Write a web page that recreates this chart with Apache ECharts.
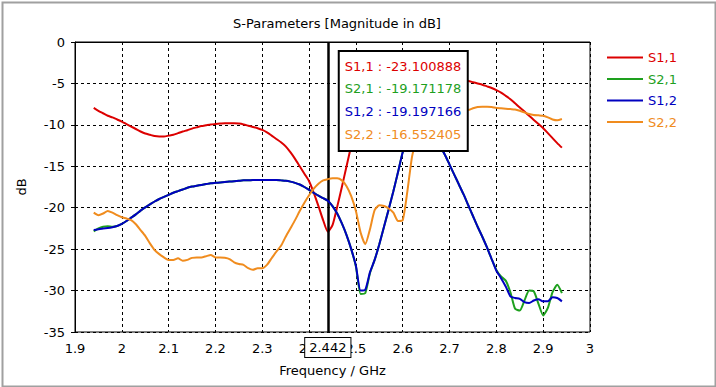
<!DOCTYPE html>
<html><head><meta charset="utf-8">
<script src="https://cdn.jsdelivr.net/npm/echarts@6/dist/echarts.min.js"></script>
<style>html,body{margin:0;padding:0;background:#fff}#c{width:716px;height:387px}</style>
</head><body><div id="c"></div>
<script>
// Frequency grid (GHz), 1.94 .. 2.94 step 0.01
const freqStart = 1.94, freqStep = 0.01, freqCount = 101;
const freq = [];
for (let i = 0; i < freqCount; i++) freq.push(+(freqStart + i * freqStep).toFixed(2));

const seriesNames = ['S1,1', 'S2,1', 'S1,2', 'S2,2'];
const seriesColors = ['#dc0000', '#1ea01e', '#0000c0', '#f08c1e'];

const s11 = [-7.95,-8.3,-8.6,-8.9,-9.1,-9.35,-9.6,-9.9,-10.2,-10.5,-10.8,-11.05,-11.2,-11.35,-11.4,-11.4,-11.3,-11.2,-11.0,-10.8,-10.65,-10.45,-10.3,-10.15,-10.05,-9.95,-9.9,-9.85,-9.8,-9.8,-9.8,-9.85,-9.95,-10.1,-10.25,-10.4,-10.6,-10.9,-11.3,-11.7,-12.1,-12.6,-13.3,-14.1,-15.0,-15.9,-16.8,-18.2,-19.8,-21.5,-22.9,-22.1,-19.9,-17.5,-15.0,-12.5,-10.3,-8.6,-7.4,-6.5,-5.8,-5.3,-4.9,-4.6,-4.4,-4.25,-4.15,-4.1,-4.05,-4.0,-4.0,-4.0,-4.05,-4.1,-4.2,-4.3,-4.4,-4.5,-4.55,-4.6,-4.7,-4.85,-5.0,-5.15,-5.35,-5.55,-5.8,-6.1,-6.5,-6.9,-7.4,-7.9,-8.4,-8.9,-9.4,-9.9,-10.4,-11.0,-11.6,-12.2,-12.75];

const s21 = [-22.85,-22.5,-22.3,-22.25,-22.3,-22.2,-21.95,-21.6,-21.2,-20.8,-20.35,-19.95,-19.6,-19.25,-18.95,-18.7,-18.45,-18.2,-18.0,-17.8,-17.6,-17.45,-17.35,-17.25,-17.15,-17.05,-17.0,-16.95,-16.9,-16.85,-16.8,-16.75,-16.7,-16.7,-16.65,-16.65,-16.65,-16.65,-16.65,-16.65,-16.7,-16.75,-16.85,-17.0,-17.2,-17.5,-17.85,-18.2,-18.55,-18.85,-19.15,-19.8,-20.7,-21.9,-23.3,-25.0,-27.1,-30.4,-30.3,-27.9,-26.3,-24.4,-22.3,-20.2,-18.0,-15.7,-13.3,-12.0,-11.4,-11.1,-11.0,-11.1,-11.4,-11.9,-12.6,-13.6,-14.8,-16.0,-17.2,-18.4,-19.7,-21.0,-22.3,-23.5,-24.8,-26.2,-27.5,-28.3,-28.8,-30.2,-32.2,-32.4,-31.2,-30.0,-30.1,-31.6,-33.0,-32.1,-30.2,-29.3,-30.3];

const s12 = [-22.7,-22.6,-22.5,-22.45,-22.35,-22.2,-21.95,-21.6,-21.2,-20.8,-20.35,-19.95,-19.6,-19.25,-18.95,-18.7,-18.45,-18.2,-18.0,-17.8,-17.6,-17.45,-17.35,-17.25,-17.15,-17.05,-17.0,-16.95,-16.9,-16.85,-16.8,-16.75,-16.7,-16.7,-16.65,-16.65,-16.65,-16.65,-16.65,-16.65,-16.7,-16.75,-16.85,-17.0,-17.2,-17.5,-17.85,-18.2,-18.55,-18.85,-19.15,-19.8,-20.7,-21.9,-23.3,-25.0,-27.0,-30.0,-29.9,-27.8,-26.3,-24.4,-22.3,-20.2,-18.0,-15.7,-13.3,-12.0,-11.4,-11.1,-11.0,-11.1,-11.4,-11.9,-12.6,-13.6,-14.8,-16.0,-17.2,-18.4,-19.7,-21.0,-22.3,-23.5,-24.8,-26.2,-27.6,-28.5,-29.5,-30.7,-30.9,-31.0,-31.4,-31.5,-31.2,-31.05,-31.3,-31.3,-30.8,-30.9,-31.3];

const s22 = [-20.6,-20.9,-20.7,-20.4,-20.6,-20.9,-21.15,-21.3,-21.5,-22.0,-22.7,-23.4,-24.3,-25.1,-25.6,-26.0,-26.3,-26.3,-26.1,-26.4,-26.3,-26.05,-26.0,-26.0,-25.85,-25.7,-26.0,-26.0,-26.05,-26.2,-26.6,-26.8,-26.9,-27.3,-27.5,-27.3,-27.3,-26.9,-26.1,-25.3,-24.6,-23.5,-22.5,-21.5,-20.4,-19.4,-18.5,-17.7,-17.1,-16.7,-16.55,-16.45,-16.45,-16.7,-17.4,-18.6,-20.4,-23.0,-24.4,-22.6,-20.3,-19.7,-19.8,-20.1,-20.6,-21.6,-21.5,-18.0,-13.8,-11.8,-10.3,-9.4,-8.9,-8.6,-8.5,-8.4,-8.4,-8.3,-8.3,-8.2,-8.2,-8.0,-7.85,-7.8,-7.8,-7.85,-7.95,-8.0,-8.05,-8.1,-8.15,-8.3,-8.5,-8.7,-8.8,-8.85,-8.9,-9.1,-9.35,-9.45,-9.3];

// Marker readout
const markerFreq = 2.442;
const markerLabel = '2.442';
const markerValues = ['-23.100888', '-19.171178', '-19.197166', '-16.552405'];

const titleText = 'S-Parameters [Magnitude in dB]';
const xName = 'Frequency / GHz';
const yName = 'dB';

const FONT = '"DejaVu Sans", sans-serif';
const allData = [s11, s21, s12, s22];

const chart = echarts.init(document.getElementById('c'), null, {renderer: 'svg'});

const series = seriesNames.map((n, k) => ({
  name: n,
  type: 'line',
  data: freq.map((f, i) => [f, allData[k][i]]),
  showSymbol: false,
  symbol: 'none',
  smooth: 0.2,
  lineStyle: {color: seriesColors[k], width: 2},
  itemStyle: {color: seriesColors[k]},
  emphasis: {disabled: true},
  z: 3 + k
}));
series.push({
  name: '__marker',
  type: 'line',
  data: [],
  markLine: {
    silent: true,
    symbol: ['none', 'none'],
    animation: false,
    lineStyle: {color: '#000', width: 2.5, type: 'solid'},
    label: {
      show: true, position: 'start', formatter: markerLabel,
      color: '#000', fontFamily: FONT, fontSize: 13,
      backgroundColor: '#fff', borderColor: '#000', borderWidth: 1,
      padding: [3, 4, 3, 4], distance: 6
    },
    data: [{xAxis: markerFreq}]
  },
  z: 10
});

chart.setOption({
  animation: false,
  backgroundColor: '#fff',
  title: {
    text: titleText, left: 332, top: 12, textAlign: 'center',
    textStyle: {fontFamily: FONT, fontSize: 13, fontWeight: 'normal', color: '#000'}
  },
  grid: {left: 75, right: 126, top: 42, bottom: 55, show: true, borderColor: '#000', borderWidth: 1, backgroundColor: 'transparent'},
  legend: {
    orient: 'vertical', left: 602, top: 46, itemWidth: 36, itemHeight: 2, itemGap: 8.5,
    icon: 'rect',
    data: seriesNames.map((n, k) => ({name: n, textStyle: {color: seriesColors[k]}})),
    textStyle: {fontFamily: FONT, fontSize: 13},
    selectedMode: false
  },
  xAxis: {
    type: 'value', min: 1.9, max: 3.0, interval: 0.1,
    name: xName, nameLocation: 'middle', nameGap: 32,
    nameTextStyle: {fontFamily: FONT, fontSize: 13, color: '#000'},
    axisLine: {show: true, lineStyle: {color: '#000', width: 1}},
    axisTick: {show: false},
    axisLabel: {fontFamily: FONT, fontSize: 13, color: '#000', margin: 10},
    splitLine: {show: true, lineStyle: {color: '#000', type: [3, 3], width: 1}}
  },
  yAxis: {
    type: 'value', min: -35, max: 0, interval: 5,
    name: yName, nameLocation: 'middle', nameGap: 47,
    nameTextStyle: {fontFamily: FONT, fontSize: 13, color: '#000'},
    axisLine: {show: true, lineStyle: {color: '#000', width: 1}},
    axisTick: {show: true, inside: false, length: 4, lineStyle: {color: '#000'}},
    axisLabel: {fontFamily: FONT, fontSize: 13, color: '#000', margin: 10},
    splitLine: {show: true, lineStyle: {color: '#000', type: [3, 3], width: 1}}
  },
  series: series
});

// Readout box anchored next to the marker line
const p = chart.convertToPixel({xAxisIndex: 0, yAxisIndex: 0}, [markerFreq, 0]);
const boxLeft = p[0] + 9, boxTop = p[1] + 8;
const boxChildren = [{
  type: 'rect', z: 100, shape: {x: 0, y: 0, width: 129, height: 100},
  style: {fill: '#fff', stroke: '#000', lineWidth: 2}
}];
seriesNames.forEach((n, k) => {
  boxChildren.push({
    type: 'text', z: 101,
    style: {
      text: n + ' : ' + markerValues[k], x: 6, y: 15 + k * 22.8,
      fill: seriesColors[k], font: '13px ' + FONT, verticalAlign: 'middle', align: 'left'
    }
  });
});
chart.setOption({
  graphic: [
    {type: 'group', left: boxLeft, top: boxTop, z: 100, children: boxChildren},
    {type: 'rect', left: 0, top: 0, z: 110, silent: true,
     shape: {x: 1, y: 1, width: 713, height: 384},
     style: {fill: 'none', stroke: '#a0a0a0', lineWidth: 2}}
  ]
});
</script>
</body></html>
